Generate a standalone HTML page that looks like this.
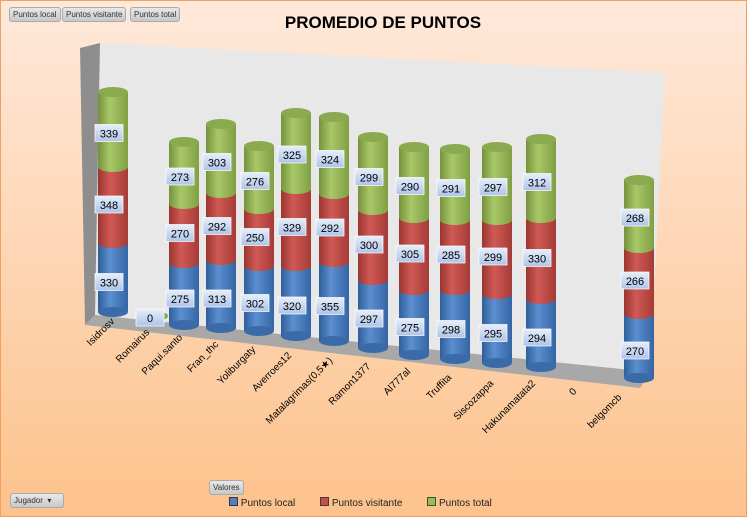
<!DOCTYPE html>
<html><head><meta charset="utf-8"><style>
html,body{margin:0;padding:0;}
body{width:747px;height:517px;overflow:hidden;font-family:"Liberation Sans",sans-serif;}
.btn{position:absolute;height:13px;font-size:8px;line-height:13px;padding:0 3px;border:1px solid #aaa;border-radius:3px;background:linear-gradient(#e8e8e8,#c8c8c8);color:#333;}
</style></head><body>
<svg id="s" width="747" height="517" xmlns="http://www.w3.org/2000/svg" style="position:absolute;left:0;top:0">
<defs>
<linearGradient id="bg" x1="0" y1="0" x2="0" y2="1"><stop offset="0" stop-color="#fee9db"/><stop offset="1" stop-color="#fdc28c"/></linearGradient>
<linearGradient id="gB" x1="0" x2="1"><stop offset="0" stop-color="#2f5f9a"/><stop offset=".4" stop-color="#5b8fd0"/><stop offset="1" stop-color="#3565a5"/></linearGradient>
<linearGradient id="gR" x1="0" x2="1"><stop offset="0" stop-color="#9a3430"/><stop offset=".4" stop-color="#d05a55"/><stop offset="1" stop-color="#a53b37"/></linearGradient>
<linearGradient id="gG" x1="0" x2="1"><stop offset="0" stop-color="#76923c"/><stop offset=".4" stop-color="#a8c868"/><stop offset="1" stop-color="#809f44"/></linearGradient>
<linearGradient id="lb" x1="0" y1="0" x2="0" y2="1"><stop offset="0" stop-color="#e6eefa"/><stop offset="1" stop-color="#aec4e8"/></linearGradient>
</defs>
<rect x="0.5" y="0.5" width="746" height="516" fill="url(#bg)" stroke="#f0a060"/>
<text x="383" y="28" font-size="17" font-weight="bold" text-anchor="middle" fill="#000">PROMEDIO DE PUNTOS</text>
<polygon points="100,43 665,73 650,372 95,315" fill="#e8e8e8"/>
<polygon points="80,48 100,43 95,315 85,325" fill="#8e8e8e"/>
<polygon points="95,315 650,372 640,388 85,325" fill="#a8a8a8"/>
<g id="bars"></g>
<g id="labs"></g>
</svg>
<div class="btn" style="left:9px;top:7px">Puntos local</div>
<div class="btn" style="left:62px;top:7px">Puntos visitante</div>
<div class="btn" style="left:130px;top:7px">Puntos total</div>
<div class="btn" style="left:209px;top:480px">Valores</div>
<div class="btn" style="left:10px;top:493px;width:46px">Jugador &nbsp;▾</div>
<div style="position:absolute;left:229px;top:497px;font-size:10px;color:#222">
<span style="display:inline-block;width:7px;height:7px;background:#4f81bd;border:1px solid #335"></span> Puntos local
<span style="display:inline-block;width:7px;height:7px;background:#c0504d;border:1px solid #533;margin-left:22px"></span> Puntos visitante
<span style="display:inline-block;width:7px;height:7px;background:#9bbb59;border:1px solid #353;margin-left:22px"></span> Puntos total
</div>
<script>
var NS="http://www.w3.org/2000/svg";
function el(t,a,p,txt){var e=document.createElementNS(NS,t);for(var k in a)e.setAttribute(k,a[k]);if(txt!=null)e.textContent=txt;(p||document.getElementById('bars')).appendChild(e);return e;}
var B=[
[113,92,167,243,312,"339","348","330"],
[184,142,204,263,325,"273","270","275"],
[221,124,193,260,328,"303","292","313"],
[259,146,209,266,331,"276","250","302"],
[296,113,189,266,336,"325","329","320"],
[334,117,194,262,341,"324","292","355"],
[373,137,210,280,348,"299","300","297"],
[414,147,218,290,355,"290","305","275"],
[455,149,220,290,359,"291","285","298"],
[497,147,220,294,363,"297","299","295"],
[541,139,218,299,367,"312","330","294"],
[639,180,248,314,378,"268","266","270"]];
var r=15,ry=5;
var L=document.getElementById('labs');
function lab(x,y,t){el('rect',{x:x-14,y:y-9,width:28,height:17,fill:"url(#lb)",stroke:"#fff","stroke-width":"0.7"},L);el('text',{x:x,y:y+4,"font-size":11,"text-anchor":"middle",fill:"#000"},L,t);}
B.forEach(function(b){var x=b[0];
el('rect',{x:x-r,y:b[3],width:2*r,height:b[4]-b[3],fill:"url(#gB)"});el('ellipse',{cx:x,cy:b[4],rx:r,ry:ry,fill:"#3a6aa8"});
el('rect',{x:x-r,y:b[2],width:2*r,height:b[3]-b[2],fill:"url(#gR)"});el('ellipse',{cx:x,cy:b[3],rx:r,ry:ry,fill:"url(#gR)"});
el('rect',{x:x-r,y:b[1],width:2*r,height:b[2]-b[1],fill:"url(#gG)"});el('ellipse',{cx:x,cy:b[2],rx:r,ry:ry,fill:"url(#gG)"});
el('ellipse',{cx:x,cy:b[1],rx:r,ry:ry,fill:"#8aaa50"});
lab(x-4,(b[1]+b[2])/2+4,b[5]);lab(x-4,(b[2]+b[3])/2,b[6]);lab(x-4,(b[3]+b[4])/2+5,b[7]);});
el('ellipse',{cx:160,cy:316,rx:8,ry:4,fill:"#8aaa50"});lab(150,318,"0");
var C=[["Isidrosv",115,322],["Romairus",150,333],["Paqui.santo",183,338],["Fran_thc",219,345],["Yoliburgaty",256,350],["Averroes12",292,356],["Matalagrimas(0,5★)",333,361],["Ramon1377",371,367],["Al777al",411,372],["Truffita",452,378],["Siscozappa",494,384],["Hakunamatata2",536,384],["0",577,392],["belgomcb",622,398]];
C.forEach(function(c){el('text',{x:c[1],y:c[2],"font-size":10,"text-anchor":"end",fill:"#000",transform:"rotate(-45 "+c[1]+" "+c[2]+")"},L,c[0]);});
</script>
</body></html>
